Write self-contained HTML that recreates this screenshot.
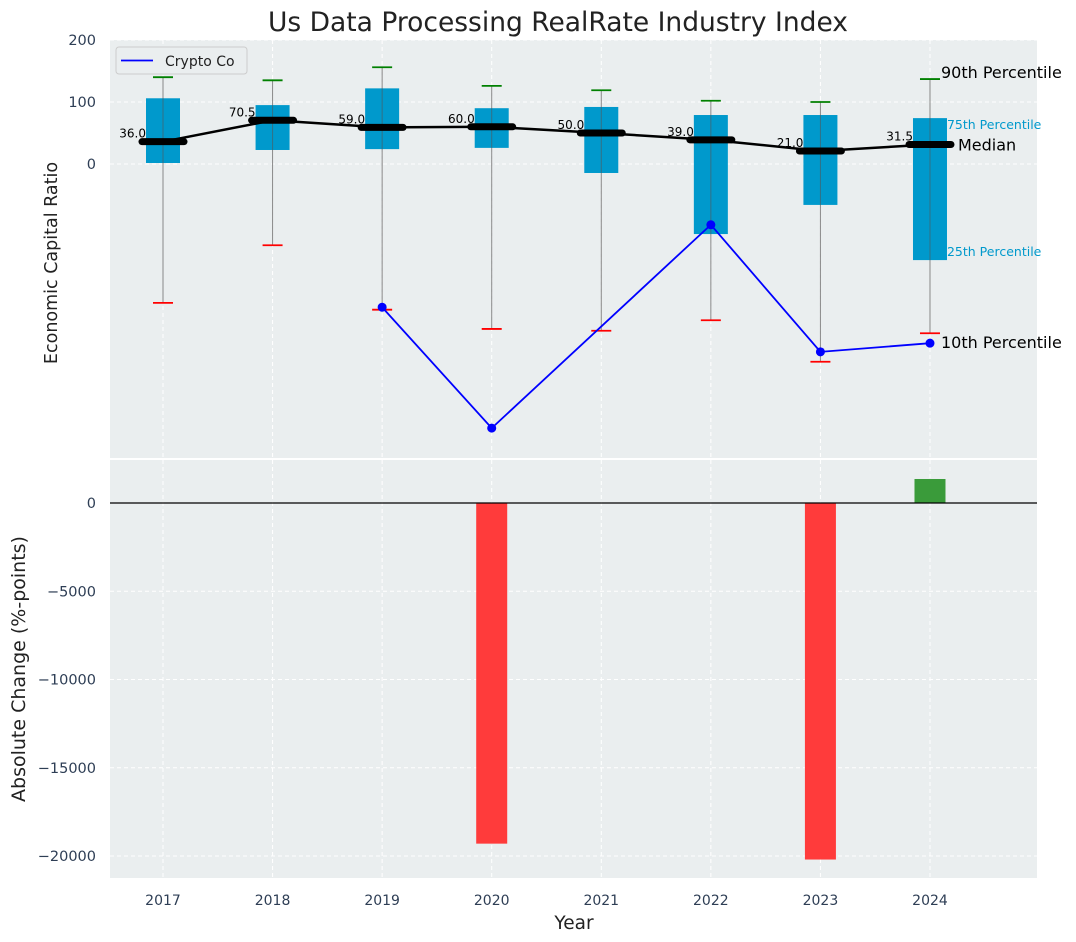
<!DOCTYPE html>
<html><head><meta charset="utf-8"><style>
html,body{margin:0;padding:0;background:#fff;}
svg{display:block;font-family:"DejaVu Sans","Liberation Sans",sans-serif;}
</style></head><body>
<svg id="chart" width="1076" height="942" viewBox="0 0 1076 942" xmlns="http://www.w3.org/2000/svg">
<text x="558" y="31" text-anchor="middle" font-size="26.5" fill="#222">Us Data Processing RealRate Industry Index</text>
<g id="topPanel"></g>
<g id="botPanel"></g>
</svg>
<script>
const years = [2017,2018,2019,2020,2021,2022,2023,2024];
const p90 = [140,135,156,126,119,102,100,137];
const q3 = [106,95,122,90,92,79,79,74];
const medians = [36,70.5,59,60,50,39,21,31.5];
const q1 = [1.6,22.6,24,26,-14.5,-113,-66,-155];
const p10 = [-224,-131,-235,-266,-269,-252,-319,-273];
const cryptoYears = [2019,2020,2022,2023,2024];
const cryptoVals = [-231,-426,-98,-303,-289];
const changeVals = [0,0,0,-19300,0,0,-20200,1360];
const topTicks = [200,100,0];
const botTicks = [0,-5000,-10000,-15000,-20000];
const botTickLabels = ["0","\u22125000","\u221210000","\u221215000","\u221220000"];

const NS="http://www.w3.org/2000/svg";
function mk(parent,tag,attrs,text){const el=document.createElementNS(NS,tag);for(const k in attrs)el.setAttribute(k,attrs[k]);if(text!==undefined)el.textContent=text;parent.appendChild(el);return el;}
const L=110,R=1037;
const x=v=>163+(v-2017)*109.57;
const yT=v=>164-v*0.62;
const yB=v=>503-v*0.01765;
const topG=document.getElementById('topPanel'), botG=document.getElementById('botPanel');
let e;

e=mk(topG,'rect',{x:L,y:40,width:R-L,height:418,fill:'#eaeeef'});


topTicks.forEach(t=>{
  e=mk(topG,'line',{x1:L,x2:R,y1:yT(t),y2:yT(t),stroke:'#fff','stroke-dasharray':'4,3','stroke-width':1});
  
  
  e=mk(topG,'text',{x:96,y:yT(t)+5,'text-anchor':'end','font-size':14.5,fill:'#2e3e55'},String(t));
  
  
});
years.forEach(yr=>{
  e=mk(topG,'line',{x1:x(yr),x2:x(yr),y1:40,y2:458,stroke:'#fff','stroke-dasharray':'4,3'});
  
  
});
e=mk(topG,'text',{x:0,y:0,transform:'translate(57,263) rotate(-90)','text-anchor':'middle','font-size':17.5,fill:'#222'},'Economic Capital Ratio');



years.forEach((yr,i)=>{
  const cx=x(yr);
  e=mk(topG,'line',{x1:cx,x2:cx,y1:yT(p90[i]),y2:yT(p10[i]),stroke:'#888','stroke-width':1});
  
  
  e=mk(topG,'rect',{x:cx-17,y:yT(q3[i]),width:34,height:yT(q1[i])-yT(q3[i]),fill:'#0099cc'});
  
  
  e=mk(topG,'line',{x1:cx,x2:cx,y1:yT(q3[i]),y2:yT(q1[i]),stroke:'#555','stroke-width':1,opacity:0.6});
  
  
  e=mk(topG,'line',{x1:cx-10,x2:cx+10,y1:yT(p90[i]),y2:yT(p90[i]),stroke:'green','stroke-width':1.8});
  
  
  e=mk(topG,'line',{x1:cx-10,x2:cx+10,y1:yT(p10[i]),y2:yT(p10[i]),stroke:'red','stroke-width':1.8});
  
  
});
let pts=years.map((yr,i)=>x(yr)+','+yT(medians[i])).join(' ');
e=mk(topG,'polyline',{points:pts,fill:'none',stroke:'#000','stroke-width':2.5});


years.forEach((yr,i)=>{
  const cx=x(yr),cy=yT(medians[i]);
  e=mk(topG,'line',{x1:cx-21,x2:cx+21,y1:cy,y2:cy,stroke:'#000','stroke-width':7,'stroke-linecap':'round'});
  
  
  e=mk(topG,'text',{x:cx-17,y:cy-4,'text-anchor':'end','font-size':12,fill:'#000'},medians[i].toFixed(1));
  
  
});
pts=cryptoYears.map((yr,i)=>x(yr)+','+yT(cryptoVals[i])).join(' ');
e=mk(topG,'polyline',{points:pts,fill:'none',stroke:'#0000ff','stroke-width':1.8});


cryptoYears.forEach((yr,i)=>{
  e=mk(topG,'circle',{cx:x(yr),cy:yT(cryptoVals[i]),r:4.5,fill:'#0000ff'});
  
  
});
const li=years.length-1, lx=x(years[li]);
e=mk(topG,'text',{x:lx+11,y:yT(p90[li])-1,'font-size':16,fill:'#000'},'90th Percentile');


e=mk(topG,'text',{x:lx+17,y:yT(q3[li])+11,'font-size':12.5,fill:'#0099cc'},'75th Percentile');


e=mk(topG,'text',{x:lx+28,y:yT(medians[li])+6,'font-size':16,fill:'#000'},'Median');


e=mk(topG,'text',{x:lx+17,y:yT(q1[li])-4,'font-size':12.5,fill:'#0099cc'},'25th Percentile');


e=mk(topG,'text',{x:lx+11,y:yT(cryptoVals[cryptoVals.length-1])+5,'font-size':16,fill:'#000'},'10th Percentile');


const lg=mk(topG,'g',{});


e=mk(lg,'rect',{x:116,y:47,width:131,height:27,rx:3,fill:'#eaeeef',stroke:'#ccc'});


e=mk(lg,'line',{x1:121,x2:153,y1:60.5,y2:60.5,stroke:'#0000ff','stroke-width':1.8});


e=mk(lg,'text',{x:165,y:66,'font-size':14,fill:'#222'},'Crypto Co');



e=mk(botG,'rect',{x:L,y:460,width:R-L,height:418,fill:'#eaeeef'});


botTicks.forEach((t,i)=>{
  e=mk(botG,'line',{x1:L,x2:R,y1:yB(t),y2:yB(t),stroke:'#fff','stroke-dasharray':'4,3'});
  
  
  e=mk(botG,'text',{x:96,y:yB(t)+5,'text-anchor':'end','font-size':14.5,fill:'#2e3e55'},botTickLabels[i]);
  
  
});
years.forEach(yr=>{
  e=mk(botG,'line',{x1:x(yr),x2:x(yr),y1:460,y2:878,stroke:'#fff','stroke-dasharray':'4,3'});
  
  
  e=mk(botG,'text',{x:x(yr),y:905,'text-anchor':'middle','font-size':14,fill:'#2e3e55'},String(yr));
  
  
});
years.forEach((yr,i)=>{
  const v=changeVals[i]; if(v===0) return;
  const y0=yB(0),y1=yB(v);
  e=mk(botG,'rect',{x:x(yr)-15.5,y:Math.min(y0,y1),width:31,height:Math.abs(y1-y0),fill:v<0?'#ff3b3b':'#3a9b3a'});
  
  
});
e=mk(botG,'line',{x1:L,x2:R,y1:yB(0),y2:yB(0),stroke:'#000','stroke-width':1.2});


e=mk(botG,'text',{x:0,y:0,transform:'translate(25,669) rotate(-90)','text-anchor':'middle','font-size':19,fill:'#222'},'Absolute Change (%-points)');


e=mk(botG,'text',{x:574,y:929,'text-anchor':'middle','font-size':18.5,fill:'#222'},'Year');


</script>
</body></html>
